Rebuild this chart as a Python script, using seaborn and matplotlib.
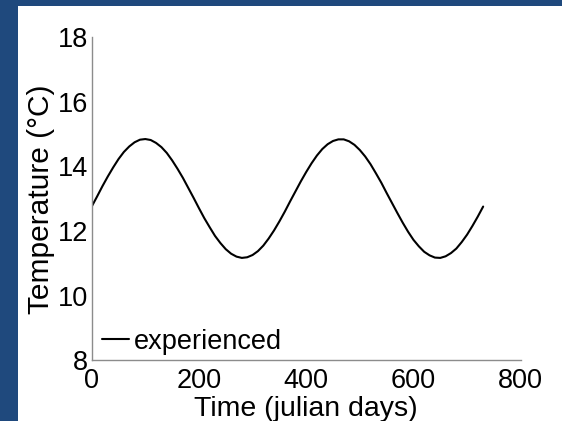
import matplotlib
matplotlib.use("Agg")
import matplotlib.pyplot as plt
from matplotlib.patches import Rectangle
import pandas as pd
import seaborn as sns

# Daily temperature experienced over two years (sampled every 10 julian days)
days = list(range(0, 731, 10))
temperature = [
    12.76, 13.07, 13.39, 13.69, 13.97, 14.23, 14.45, 14.62, 14.75, 14.83,
    14.85, 14.82, 14.73, 14.60, 14.42, 14.19, 13.93, 13.65, 13.34, 13.03,
    12.71, 12.40, 12.12, 11.85, 11.63, 11.44, 11.30, 11.21, 11.17, 11.19,
    11.26, 11.38, 11.55, 11.77, 12.02, 12.30, 12.60, 12.92, 13.23, 13.54,
    13.83, 14.10, 14.34, 14.54, 14.69, 14.79, 14.84, 14.84, 14.78, 14.67,
    14.51, 14.31, 14.07, 13.79, 13.50, 13.18, 12.87, 12.56, 12.26, 11.98,
    11.73, 11.53, 11.36, 11.25, 11.18, 11.17, 11.22, 11.32, 11.46, 11.66,
    11.89, 12.16, 12.45, 12.76,
]
series_name = "experienced"
x_ticks = [0, 200, 400, 600, 800]
y_ticks = [8, 10, 12, 14, 16, 18]

df = pd.DataFrame({"day": days, "temp": temperature, "series": series_name})

sns.set_style("white")
plt.rcParams["font.family"] = ["Liberation Sans", "DejaVu Sans"]
plt.rcParams["text.color"] = "black"
plt.rcParams["axes.labelcolor"] = "black"

fig = plt.figure(figsize=(5.62, 4.21), dpi=100)
fig.patch.set_facecolor("white")

# slide-style frame: blue band on the left and top
band = "#1F497D"
fig.patches.append(Rectangle((0, 0), 18 / 562, 1, transform=fig.transFigure,
                             facecolor=band, edgecolor="none", zorder=0))
fig.patches.append(Rectangle((0, 1 - 6 / 421), 1, 6 / 421, transform=fig.transFigure,
                             facecolor=band, edgecolor="none", zorder=0))

ax = fig.add_axes([91.7 / 562, 1 - 360.3 / 421, (520.7 - 91.7) / 562, (360.3 - 37.3) / 421])
ax.set_facecolor("none")

sns.lineplot(data=df, x="day", y="temp", hue="series", palette=["black"],
             linewidth=1.5, ax=ax)

ax.set_xlim(0, 800)
ax.set_ylim(8, 18)
ax.set_xticks(x_ticks)
ax.set_yticks(y_ticks)
ax.set_xlabel("Time (julian days)", fontsize=20.5, labelpad=1.5)
ax.set_ylabel("Temperature (°C)", fontsize=21.5, labelpad=2)

for side in ("top", "right"):
    ax.spines[side].set_visible(False)
for side in ("left", "bottom"):
    ax.spines[side].set_color("#8c8c8c")
    ax.spines[side].set_linewidth(1.0)

ax.tick_params(axis="both", direction="in", length=4, width=0.8, color="#8c8c8c",
               labelsize=19.5, labelcolor="black")
ax.tick_params(axis="x", pad=5.5)
ax.tick_params(axis="y", pad=2.5)

leg = ax.legend(loc="lower left", bbox_to_anchor=(0.012, 0.0), frameon=False,
                fontsize=19.5, handlelength=1.0, handletextpad=0.15,
                borderaxespad=0.0, borderpad=0.2)

fig.savefig("out.png", dpi=100, facecolor=fig.get_facecolor())
